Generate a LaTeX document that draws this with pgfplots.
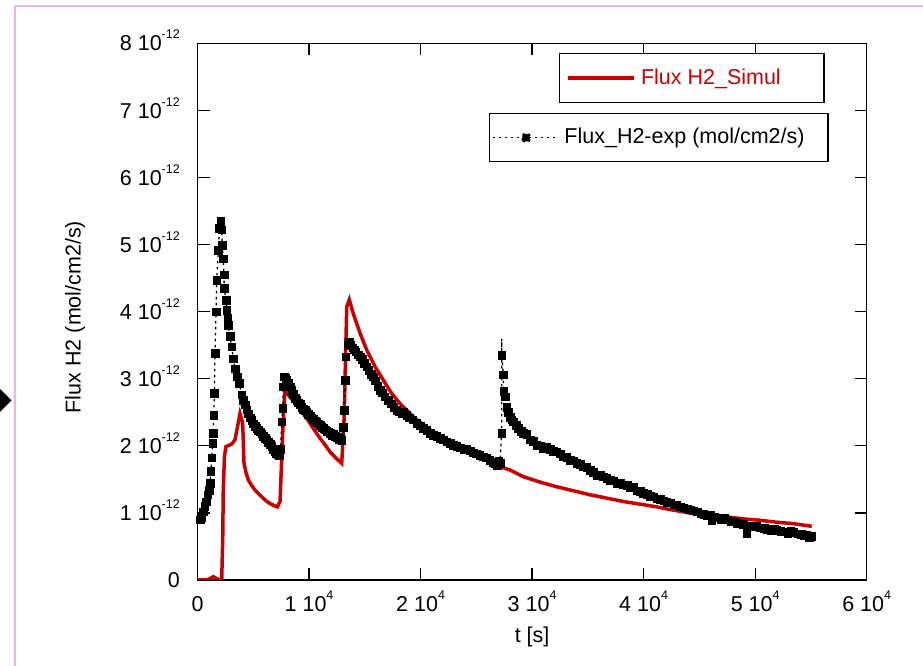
\documentclass[border=0pt]{standalone}
\usepackage{fontspec}
\setmainfont{Liberation Sans}
\usepackage{pgfplots}
\usepackage{pgfplotstable}
\pgfplotsset{compat=1.18}
\definecolor{simred}{RGB}{200,0,0}
\definecolor{framepink}{RGB}{238,180,238}
\newcommand{\spow}[1]{\raisebox{12pt}{\fontsize{12.5}{12.5}\selectfont #1}}
\newcommand{\fnt}{\fontsize{21.5}{25}\selectfont}

\pgfplotstableread{
t f
0 0
800 0
1100 0.02
1420 0.05
1720 0.02
2050 0
2170 0
2260 0.6
2310 1.34
2420 1.85
2555 1.99
2850 2.01
3100 2.03
3360 2.09
3550 2.25
3810 2.48
3950 2.40
4050 2.34
4170 1.74
4350 1.60
4560 1.49
4850 1.41
5160 1.34
5460 1.29
5760 1.24
6150 1.18
6500 1.14
6850 1.11
7160 1.09
7400 1.17
7640 2.19
7850 2.88
8050 2.78
8290 2.73
9040 2.58
9500 2.48
10000 2.36
10500 2.23
11000 2.11
11500 2.00
11880 1.91
12400 1.82
12930 1.74
13140 2.38
13380 4.07
13610 4.18
13970 3.97
14570 3.68
15170 3.43
15920 3.18
16660 2.98
17410 2.78
18160 2.63
19350 2.43
20850 2.24
22340 2.09
23830 1.94
25330 1.84
27120 1.69
28020 1.64
29210 1.54
30700 1.46
32200 1.39
33700 1.33
35200 1.27
36700 1.22
38180 1.17
39700 1.13
41170 1.09
42370 1.05
44460 0.99
46000 0.96
47450 0.94
49000 0.91
50440 0.89
52000 0.86
53420 0.84
55070 0.80
}\simdata

\pgfplotstableread{
t f
250 0.90
380 0.93
520 1.02
650 1.10
760 1.17
900 1.27
1060 1.34
1120 1.44
1200 1.62
1270 1.82
1360 2.04
1420 2.19
1460 2.46
1510 2.78
1570 3.38
1660 4.00
1720 4.47
1870 4.92
1960 5.24
2080 5.35
2170 5.22
2220 4.99
2310 4.79
2370 4.55
2400 4.35
2555 4.17
2620 4.02
2710 3.90
2760 3.80
2910 3.63
3060 3.48
3210 3.30
3360 3.15
3570 3.03
3750 2.93
3960 2.76
4110 2.68
4260 2.61
4410 2.54
4560 2.48
4710 2.42
4860 2.38
5010 2.33
5160 2.29
5310 2.26
5460 2.23
5610 2.21
5760 2.18
5910 2.14
6060 2.11
6200 2.09
6350 2.05
6500 2.02
6650 1.99
6800 1.95
6950 1.92
7040 1.89
7190 1.87
7340 1.86
7450 1.95
7550 2.36
7650 2.56
7700 2.88
7800 3.03
7900 3.01
8000 2.98
8140 2.94
8300 2.88
8450 2.83
8600 2.77
8740 2.71
8900 2.68
9050 2.64
9200 2.62
9350 2.58
9500 2.55
9650 2.53
9800 2.50
9950 2.47
10100 2.45
10250 2.42
10400 2.40
10550 2.37
10700 2.35
10850 2.33
11000 2.31
11150 2.28
11300 2.26
11450 2.24
11600 2.22
11750 2.21
11900 2.19
12050 2.16
12200 2.18
12350 2.14
12500 2.13
12650 2.10
12800 2.12
12930 2.08
13080 2.28
13140 2.53
13250 2.98
13300 3.33
13450 3.50
13610 3.55
13750 3.50
13900 3.46
14050 3.43
14200 3.40
14400 3.36
14570 3.33
14750 3.29
14950 3.23
15170 3.18
15350 3.13
15550 3.07
15770 3.03
15950 2.97
16150 2.89
16360 2.83
16550 2.79
16800 2.73
17110 2.68
17350 2.63
17600 2.58
17860 2.53
18100 2.51
18300 2.49
18500 2.50
18760 2.46
19000 2.42
19300 2.39
19660 2.34
19950 2.30
20250 2.26
20550 2.23
20850 2.19
21150 2.16
21450 2.14
21750 2.11
22040 2.09
22350 2.06
22650 2.04
22950 2.01
23240 1.99
23550 1.97
23850 1.95
24150 1.96
24430 1.93
24700 1.90
25000 1.88
25300 1.86
25630 1.84
25900 1.82
26200 1.79
26520 1.76
26700 1.74
26850 1.71
27000 1.78
27120 1.74
27270 2.19
27270 3.60
27280 3.35
27420 3.06
27450 2.81
27570 2.73
27720 2.58
27870 2.50
28020 2.43
28170 2.39
28320 2.36
28550 2.31
28770 2.26
29000 2.22
29210 2.19
29500 2.17
29810 2.09
30100 2.07
30410 2.01
30700 2.00
31000 1.96
31300 1.98
31600 1.95
31900 1.92
32200 1.91
32500 1.88
32800 1.84
33100 1.83
33400 1.79
33700 1.78
34000 1.74
34300 1.73
34600 1.69
34900 1.68
35200 1.64
35500 1.61
35790 1.56
36100 1.57
36390 1.54
36700 1.52
36990 1.49
37300 1.48
37590 1.44
37900 1.45
38180 1.42
38500 1.41
38800 1.38
39080 1.38
39400 1.33
39700 1.32
39970 1.29
40300 1.28
40600 1.25
40870 1.24
41200 1.21
41500 1.20
41800 1.18
42070 1.16
42400 1.15
42700 1.12
42960 1.12
43300 1.09
43600 1.08
43900 1.06
44200 1.05
44460 1.03
44800 1.02
45100 0.99
45400 0.98
45700 0.96
45950 0.97
46100 0.89
46300 0.94
46600 0.93
46900 0.91
47200 0.92
47450 0.90
47800 0.88
48100 0.87
48400 0.85
48700 0.84
48940 0.83
49240 0.70
49500 0.81
49800 0.80
50100 0.80
50440 0.78
50800 0.77
51100 0.76
51400 0.74
51700 0.76
51930 0.74
52300 0.73
52600 0.72
52900 0.70
53200 0.73
53420 0.71
53800 0.69
54100 0.68
54400 0.66
54610 0.67
54850 0.64
55070 0.65
}\expdata

\pgfplotsset{myax/.style={at={(197.5pt,86pt)}, anchor=south west,
  scale only axis, width=669.2pt, height=536.7pt,
  xmin=0, xmax=60000, ymin=0, ymax=8}}

\begin{document}
\begin{tikzpicture}
\useasboundingbox (0,0) rectangle (923pt,666pt);
\draw[framepink, line width=1.5pt] (15pt,-2pt) -- (15pt,660pt) -- (925pt,660pt);
\fill[black] (-13.5pt,265.5pt) -- (-1pt,278pt) -- (11.5pt,265.5pt) -- (-1pt,253pt) -- cycle;

\begin{axis}[myax,
  xtick={0,10000,20000,30000,40000,50000,60000},
  xticklabels={0, 1 10\spow{4}, 2 10\spow{4}, 3 10\spow{4}, 4 10\spow{4}, 5 10\spow{4}, 6 10\spow{4}},
  ytick={0,1,2,3,4,5,6,7,8},
  yticklabels={0, 1 10\spow{-12}, 2 10\spow{-12}, 3 10\spow{-12}, 4 10\spow{-12}, 5 10\spow{-12}, 6 10\spow{-12}, 7 10\spow{-12}, 8 10\spow{-12}},
  scaled ticks=false,
  tick align=inside, major tick length=12pt,
  axis line style={line width=1.5pt},
  tick style={line width=1.3pt, black},
  tick label style={font=\fnt},
  xticklabel style={anchor=base, inner sep=0pt, yshift=-32pt},
  yticklabel style={anchor=base east, inner sep=0pt, xshift=-17.5pt, yshift=-7.7pt},
  xlabel={t [s]}, ylabel={Flux H2 (mol/cm2/s)},
  xlabel style={at={(axis description cs:0.5,-0.1062)}, anchor=center, font=\fnt},
  ylabel style={at={(axis description cs:-0.183,0.49)}, anchor=center, font=\fnt},
  legend style={at={(axis description cs:0.540,0.982)}, anchor=north west,
    draw=black, line width=1.3pt, fill=white, inner xsep=7pt, inner ysep=9.5pt,
    font=\fnt, text=simred,
    nodes={text height=16pt, text depth=4pt, inner sep=5pt}},
  legend image code/.code={\draw[#1] (0pt,0pt) -- (66pt,0pt);},
]
\addplot[simred, line width=3.5pt] table[x=t, y=f] {\simdata};
\addlegendentry{\makebox[171pt][l]{Flux H2\_Simul}}
\end{axis}

\begin{axis}[myax, hide axis,
  legend style={at={(axis description cs:0.4356,0.870)}, anchor=north west,
    draw=black, line width=1.3pt, fill=white, inner xsep=2.5pt, inner ysep=9pt,
    font=\fnt, text=black,
    nodes={text height=16pt, text depth=4pt, inner sep=5pt}},
  legend image code/.code={\draw[black, line width=1.3pt, dash pattern=on 2.5pt off 3.5pt] (0pt,0pt) -- (66pt,0pt);
    \fill[black, rounded corners=1pt] (29.5pt,-3.7pt) rectangle (36.9pt,3.7pt);},
]
\addplot[black, line width=1.3pt, dash pattern=on 2.5pt off 3.5pt] table[x=t, y=f] {\expdata};
\addlegendentry{\makebox[256pt][l]{Flux\_H2-exp (mol/cm2/s)}}
\addplot[only marks, mark=square*, mark size=3.8pt, black, forget plot,
  mark options={rounded corners=1.2pt},
  skip coords between index={161}{162}] table[x=t, y=f] {\expdata};
\end{axis}
\end{tikzpicture}
\end{document}
